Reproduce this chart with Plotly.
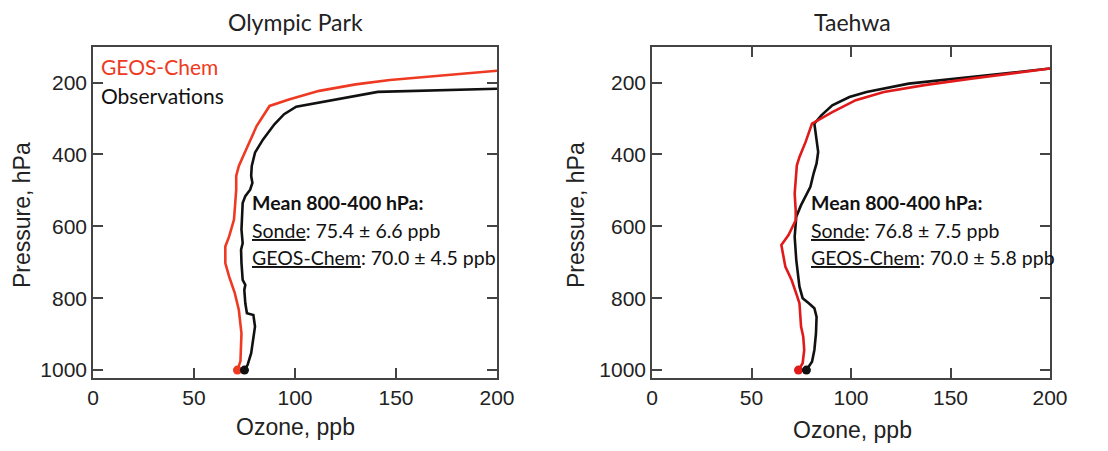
import plotly.graph_objects as go

# ---------------- data ----------------
titles = ["Olympic Park", "Taehwa"]

# Olympic Park - Observations (sonde)
op_obs_p = [1000, 986, 953, 916, 879, 847, 842, 814, 777, 763, 749, 702, 665, 647, 609,
            572, 535, 516, 498, 479, 460, 432, 395, 358, 316, 288, 267, 226, 217]
op_obs_x = [75.0, 76.5, 78.3, 79.4, 80.2, 79.4, 76.2, 75.4, 74.9, 75.4, 74.1, 73.5, 73.3, 74.1, 73.5,
            73.8, 74.1, 75.4, 77.8, 78.9, 78.3, 78.6, 80.2, 84.2, 89.8, 94.6, 100.6, 141.0, 200.0]

# Olympic Park - GEOS-Chem
op_gc_p = [1000, 975, 898, 833, 786, 740, 702, 656, 628, 581, 544, 498, 460, 432, 395,
           363, 321, 293, 265, 247, 223, 205, 193, 167]
op_gc_x = [71.5, 73.0, 73.5, 72.2, 70.2, 67.4, 65.5, 65.5, 67.4, 69.8, 70.3, 70.9, 70.9, 72.2, 75.1,
           77.8, 81.0, 84.2, 87.4, 97.0, 112.0, 130.0, 147.0, 200.0]

# Taehwa - Observations (sonde)
th_obs_p = [1000, 977, 944, 898, 852, 828, 814, 800, 768, 731, 694, 629, 601, 573, 541,
            518, 490, 453, 425, 393, 360, 314, 291, 263, 240, 226, 203, 189, 161]
th_obs_x = [77.6, 80.4, 81.6, 82.4, 82.7, 81.6, 78.8, 75.7, 74.1, 73.3, 72.5, 71.7, 72.1, 72.5, 74.9,
            77.2, 79.6, 81.2, 82.7, 83.5, 82.7, 81.6, 85.1, 90.6, 99.2, 107.8, 129.0, 152.6, 200.0]

# Taehwa - GEOS-Chem
th_gc_p = [1000, 981, 944, 907, 879, 833, 814, 787, 750, 712, 652, 624, 583, 555, 509,
           472, 430, 407, 365, 314, 282, 249, 226, 207, 189, 161]
th_gc_x = [73.6, 75.7, 76.5, 76.0, 74.9, 74.4, 74.1, 72.5, 70.2, 67.0, 65.0, 68.6, 72.2, 72.2, 71.7,
           72.2, 72.8, 74.1, 77.2, 80.4, 90.6, 102.4, 116.5, 136.9, 160.4, 200.0]

stats = [
    ["75.4 ± 6.6 ppb", "70.0 ± 4.5 ppb"],
    ["76.8 ± 7.5 ppb", "70.0 ± 5.8 ppb"],
]

x_ticks = [0, 50, 100, 150, 200]
y_ticks = [200, 400, 600, 800, 1000]

# ---------------- styles ----------------
W, H = 1108, 451
BLACK = "#111111"
RED_L = "#ee3a22"
RED_R = "#e01a1a"
AX = "#444444"
TXT = "#222222"
SANS = "Liberation Sans, Arial, sans-serif"
CAL = "Lato, Carlito, Calibri, sans-serif"

xdom = [[93 / W, 497 / W], [652 / W, 1050 / W]]
ydom = [(H - 378) / H, (H - 47) / H]

fig = go.Figure()

panels = [
    (op_obs_x, op_obs_p, op_gc_x, op_gc_p, RED_L),
    (th_obs_x, th_obs_p, th_gc_x, th_gc_p, RED_R),
]

for i, (ox, op, gx, gp, red) in enumerate(panels):
    xa = "x" if i == 0 else "x2"
    ya = "y" if i == 0 else "y2"
    fig.add_trace(go.Scatter(x=ox, y=op, mode="lines", line=dict(color=BLACK, width=2.6),
                             xaxis=xa, yaxis=ya, showlegend=False, hoverinfo="skip"))
    fig.add_trace(go.Scatter(x=gx, y=gp, mode="lines", line=dict(color=red, width=2.6),
                             xaxis=xa, yaxis=ya, showlegend=False, hoverinfo="skip"))
    fig.add_trace(go.Scatter(x=[gx[0]], y=[gp[0]], mode="markers",
                             marker=dict(color=red, size=9), xaxis=xa, yaxis=ya,
                             showlegend=False, hoverinfo="skip"))
    fig.add_trace(go.Scatter(x=[ox[0]], y=[op[0]], mode="markers",
                             marker=dict(color=BLACK, size=9), xaxis=xa, yaxis=ya,
                             showlegend=False, hoverinfo="skip"))

common_axis = dict(showgrid=False, zeroline=False, showline=True, linecolor=AX, linewidth=1.5,
                   ticks="inside", ticklen=10, tickwidth=1.5, tickcolor=AX,
                   tickfont=dict(family=SANS, size=21, color=TXT))

fig.update_layout(
    width=W, height=H,
    paper_bgcolor="white", plot_bgcolor="white",
    margin=dict(l=0, r=0, t=0, b=0, autoexpand=False),
    xaxis=dict(domain=xdom[0], range=[0, 200], tickvals=x_ticks, mirror=True,
               anchor="y", **common_axis),
    yaxis=dict(domain=ydom, range=[1022, 101], tickvals=y_ticks, mirror="ticks",
               anchor="x", **common_axis),
    xaxis2=dict(domain=xdom[1], range=[0, 200], tickvals=x_ticks, mirror="ticks",
                anchor="y2", **common_axis),
    yaxis2=dict(domain=ydom, range=[1022, 101], tickvals=y_ticks, mirror="ticks",
                anchor="x2", **common_axis),
)

ann = []
centers = [295, 852]
ylab_x = [22, 576]
for i in range(2):
    xr = "x" if i == 0 else "x2"
    yr = "y" if i == 0 else "y2"
    # panel title
    ann.append(dict(text=titles[i], x=centers[i] / W, y=1 - 22 / H, xref="paper", yref="paper",
                    xanchor="center", yanchor="middle", showarrow=False,
                    font=dict(family=CAL, size=23, color=TXT)))
    # x axis title
    ann.append(dict(text="Ozone, ppb", x=centers[i] / W, y=1 - (427 + 3 * i) / H,
                    xref="paper", yref="paper", xanchor="center", yanchor="middle",
                    showarrow=False, font=dict(family=SANS, size=23, color=TXT)))
    # y axis title
    ann.append(dict(text="Pressure, hPa", x=ylab_x[i] / W, y=1 - 215 / H, textangle=-90,
                    xref="paper", yref="paper", xanchor="center", yanchor="middle",
                    showarrow=False, font=dict(family=SANS, size=23, color=TXT)))
    # mean annotation
    x0 = 77.7 if i == 0 else 79.0
    lines = ["<b>Mean 800-400 hPa:</b>",
             "<u>Sonde</u>: " + stats[i][0],
             "<u>GEOS-Chem</u>: " + stats[i][1]]
    for txt, p in zip(lines, [534, 612, 688]):
        ann.append(dict(text=txt, x=x0, y=p, xref=xr, yref=yr, xanchor="left",
                        yanchor="middle", showarrow=False,
                        font=dict(family=CAL, size=19.5, color=BLACK)))

# legend texts (left panel)
ann.append(dict(text="GEOS-Chem", x=3.0, y=155, xref="x", yref="y", xanchor="left",
                yanchor="middle", showarrow=False, font=dict(family=CAL, size=21, color=RED_L)))
ann.append(dict(text="Observations", x=3.0, y=236, xref="x", yref="y", xanchor="left",
                yanchor="middle", showarrow=False, font=dict(family=CAL, size=21, color=BLACK)))

fig.update_layout(annotations=ann)

fig.write_html("out.html", config={"displayModeBar": False},
               post_script="document.body.style.margin='0';")
